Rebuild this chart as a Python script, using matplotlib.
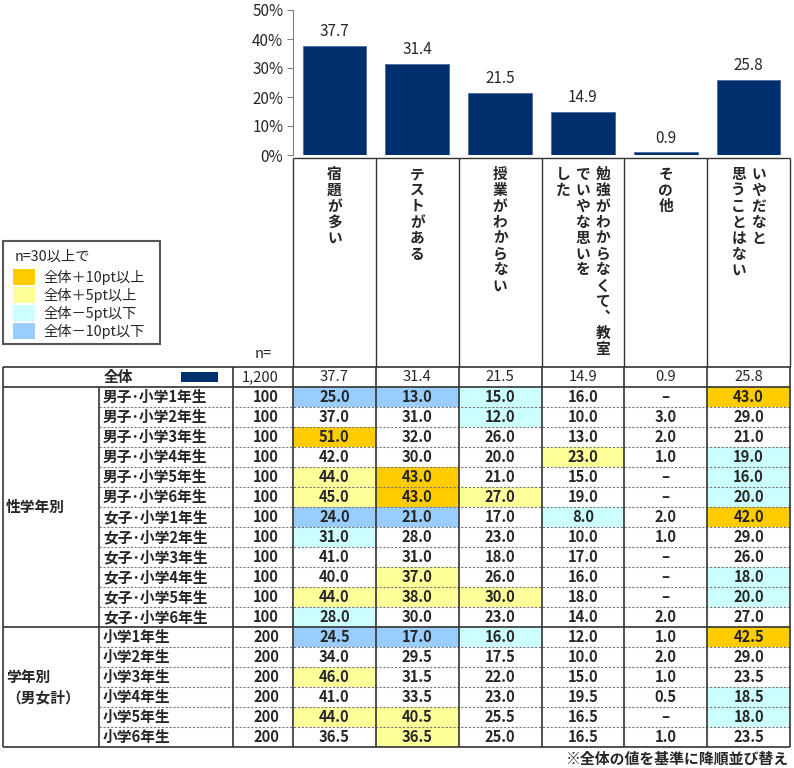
import matplotlib
matplotlib.use("Agg")
import matplotlib.pyplot as plt
from matplotlib.patches import Rectangle

plt.rcParams['font.family'] = ['Noto Sans CJK JP', 'DejaVu Sans']

# --- data -------------------------------------------------------------
categories = ["宿題が多い", "テストがある", "授業がわからない",
              "勉強がわからなくて、教室でいやな思いをした", "その他",
              "いやだなと思うことはない"]
# header text as vertical lines (first = rightmost)
header_lines = [["宿題が多い"], ["テストがある"], ["授業がわからない"],
                ["勉強がわからなくて、教室", "でいやな思いを", "した"],
                ["その他"], ["いやだなと", "思うことはない"]]

total_label = "全体"
total_n = 1200
total_values = [37.7, 31.4, 21.5, 14.9, 0.9, 25.8]

gender_group = "性学年別"
gender_rows = ["男子･小学1年生", "男子･小学2年生", "男子･小学3年生", "男子･小学4年生",
               "男子･小学5年生", "男子･小学6年生", "女子･小学1年生", "女子･小学2年生",
               "女子･小学3年生", "女子･小学4年生", "女子･小学5年生", "女子･小学6年生"]
gender_n = [100, 100, 100, 100, 100, 100, 100, 100, 100, 100, 100, 100]
gender_values = [
    [25.0, 13.0, 15.0, 16.0, None, 43.0],
    [37.0, 31.0, 12.0, 10.0, 3.0, 29.0],
    [51.0, 32.0, 26.0, 13.0, 2.0, 21.0],
    [42.0, 30.0, 20.0, 23.0, 1.0, 19.0],
    [44.0, 43.0, 21.0, 15.0, None, 16.0],
    [45.0, 43.0, 27.0, 19.0, None, 20.0],
    [24.0, 21.0, 17.0, 8.0, 2.0, 42.0],
    [31.0, 28.0, 23.0, 10.0, 1.0, 29.0],
    [41.0, 31.0, 18.0, 17.0, None, 26.0],
    [40.0, 37.0, 26.0, 16.0, None, 18.0],
    [44.0, 38.0, 30.0, 18.0, None, 20.0],
    [28.0, 30.0, 23.0, 14.0, 2.0, 27.0],
]

grade_group = "学年別\n（男女計）"
grade_rows = ["小学1年生", "小学2年生", "小学3年生", "小学4年生", "小学5年生", "小学6年生"]
grade_n = [200, 200, 200, 200, 200, 200]
grade_values = [
    [24.5, 17.0, 16.0, 12.0, 1.0, 42.5],
    [34.0, 29.5, 17.5, 10.0, 2.0, 29.0],
    [46.0, 31.5, 22.0, 15.0, 1.0, 23.5],
    [41.0, 33.5, 23.0, 19.5, 0.5, 18.5],
    [44.0, 40.5, 25.5, 16.5, None, 18.0],
    [36.5, 36.5, 25.0, 16.5, 1.0, 23.5],
]

legend_title = "n=30以上で"
legend_labels = ["全体＋10pt以上", "全体＋5pt以上", "全体－5pt以下", "全体－10pt以下"]
legend_colors = ["#FFCC00", "#FFFF99", "#CCFFFF", "#99CCFF"]
footnote = "※全体の値を基準に降順並び替え"

NAVY = "#002F6E"
LINE = "#333333"
TXT = "#262626"
FS = 10.6  # table font size


def cell_color(v, base, n):
    if n < 30:
        return None
    d = (v if v is not None else 0) - base
    if d >= 10:
        return legend_colors[0]
    if d >= 5:
        return legend_colors[1]
    if d <= -10:
        return legend_colors[3]
    if d <= -5:
        return legend_colors[2]
    return None


# --- layout (pixels) --------------------------------------------------
W, H = 794, 768
x_group, x_label, x_n, x_data, x_right = 3, 99, 233, 293, 790
col_w = (x_right - x_data) / len(categories)
header_top, table_top, row_h = 158, 367, 20

fig = plt.figure(figsize=(W / 100, H / 100), dpi=100)

# table / background layer
ax = fig.add_axes([0, 0, 1, 1])
ax.set_xlim(0, W)
ax.set_ylim(H, 0)
ax.axis('off')

# bar chart
bx = fig.add_axes([x_data / W, 1 - 155 / H, (x_right - x_data) / W, 145 / H])
xs = list(range(len(categories)))
bx.bar(xs, total_values, width=0.77, color=NAVY, edgecolor="#4A6A9A", linewidth=0.6)
for x, v in zip(xs, total_values):
    bx.text(x, v + 2.0, f"{v:.1f}", ha='center', va='bottom', fontsize=11, color=TXT)
bx.set_xlim(-0.5, len(categories) - 0.5)
bx.set_ylim(0, 50)
bx.set_yticks(range(0, 51, 10))
bx.set_yticklabels([f"{t}%" for t in range(0, 51, 10)], fontsize=11, color=TXT)
bx.set_xticks([])
for s in ['top', 'right', 'bottom']:
    bx.spines[s].set_visible(False)
bx.spines['left'].set_color('#808080')
bx.tick_params(axis='y', length=4, color='#808080', pad=3)
bx.patch.set_alpha(0)

# header vertical text
vert_map = {"、": "︑"}
for j, lines in enumerate(header_lines):
    cx = x_data + (j + 0.5) * col_w
    k = len(lines)
    for i, line in enumerate(lines):
        lx = cx + (k - 1) / 2 * 20 - i * 20
        for c, ch in enumerate(line):
            ax.text(lx, 174 + c * 15.9, vert_map.get(ch, ch), ha='center', va='center',
                    fontsize=10.6, fontweight='bold', color=TXT)

# rows
all_rows = [(total_label, total_n, total_values)]
all_rows += list(zip(gender_rows, gender_n, gender_values))
all_rows += list(zip(grade_rows, grade_n, grade_values))
n_rows = len(all_rows)
table_bottom = table_top + n_rows * row_h

for r, (label, n, vals) in enumerate(all_rows):
    y0 = table_top + r * row_h
    yc = y0 + row_h / 2
    bold = 'normal' if r == 0 else 'bold'
    for j, v in enumerate(vals):
        cx0 = x_data + j * col_w
        if r > 0:
            c = cell_color(v, total_values[j], n)
            if c:
                ax.add_patch(Rectangle((cx0, y0), col_w, row_h, color=c, lw=0))
        s = "–" if v is None else f"{v:.1f}"
        ax.text(cx0 + col_w / 2, yc, s, ha='center', va='center', fontsize=FS,
                fontweight=bold, color=TXT)
    ax.text(279, yc, f"{n:,}", ha='right', va='center', fontsize=FS,
            fontweight=bold, color=TXT)
    if r == 0:
        ax.text(104, yc, label, ha='left', va='center', fontsize=FS,
                fontweight='bold', color=TXT)
        ax.add_patch(Rectangle((181, y0 + 5), 37, 10, color=NAVY, lw=0))
    else:
        ax.text(103, yc, label, ha='left', va='center', fontsize=FS,
                fontweight='bold', color=TXT)

# group labels
g1_top = table_top + row_h
g2_top = g1_top + len(gender_rows) * row_h
ax.text(6, g1_top + len(gender_rows) * row_h / 2, gender_group, ha='left', va='center',
        fontsize=FS, fontweight='bold', color=TXT)
ax.text(6, g2_top + len(grade_rows) * row_h / 2, grade_group, ha='left', va='center',
        fontsize=FS, fontweight='bold', color=TXT, linespacing=1.3)

# grid lines
col_edges = [x_data + j * col_w for j in range(len(categories) + 1)]
ax.vlines(col_edges, header_top, table_top, color=LINE, lw=1)
ax.hlines(header_top, x_data, x_right, color=LINE, lw=1)
for r in range(1, n_rows):
    y = table_top + r * row_h
    if r in (1, 1 + len(gender_rows)):
        ax.hlines(y, x_group, x_right, color=LINE, lw=1.2)
    else:
        ax.hlines(y, x_label, x_right, color='#777777', lw=0.8, linestyles=(0, (2, 1.5)))
ax.hlines([table_top, table_bottom], x_group, x_right, color=LINE, lw=1.2)
ax.vlines([x_group, x_n, x_right] + col_edges[1:-1] + [x_data], table_top, table_bottom,
          color=LINE, lw=1.2)
ax.vlines(x_label, g1_top, table_bottom, color=LINE, lw=1.2)

ax.text(263, 354, "n=", ha='center', va='center', fontsize=FS, color=TXT)

# legend
ax.add_patch(Rectangle((3, 241), 157, 103, fill=False, edgecolor='#555555', lw=1.5))
ax.text(15, 257, legend_title, ha='left', va='center', fontsize=10.3, color=TXT)
for i, (lab, c) in enumerate(zip(legend_labels, legend_colors)):
    y = 269 + i * 18
    ax.add_patch(Rectangle((13, y), 22, 16, color=c, lw=0))
    ax.text(43, y + 8.5, lab, ha='left', va='center', fontsize=10.3, color=TXT)

ax.text(789, 759, footnote, ha='right', va='center', fontsize=10.7,
        fontweight='bold', color=TXT)

fig.savefig("out.png", dpi=100)
